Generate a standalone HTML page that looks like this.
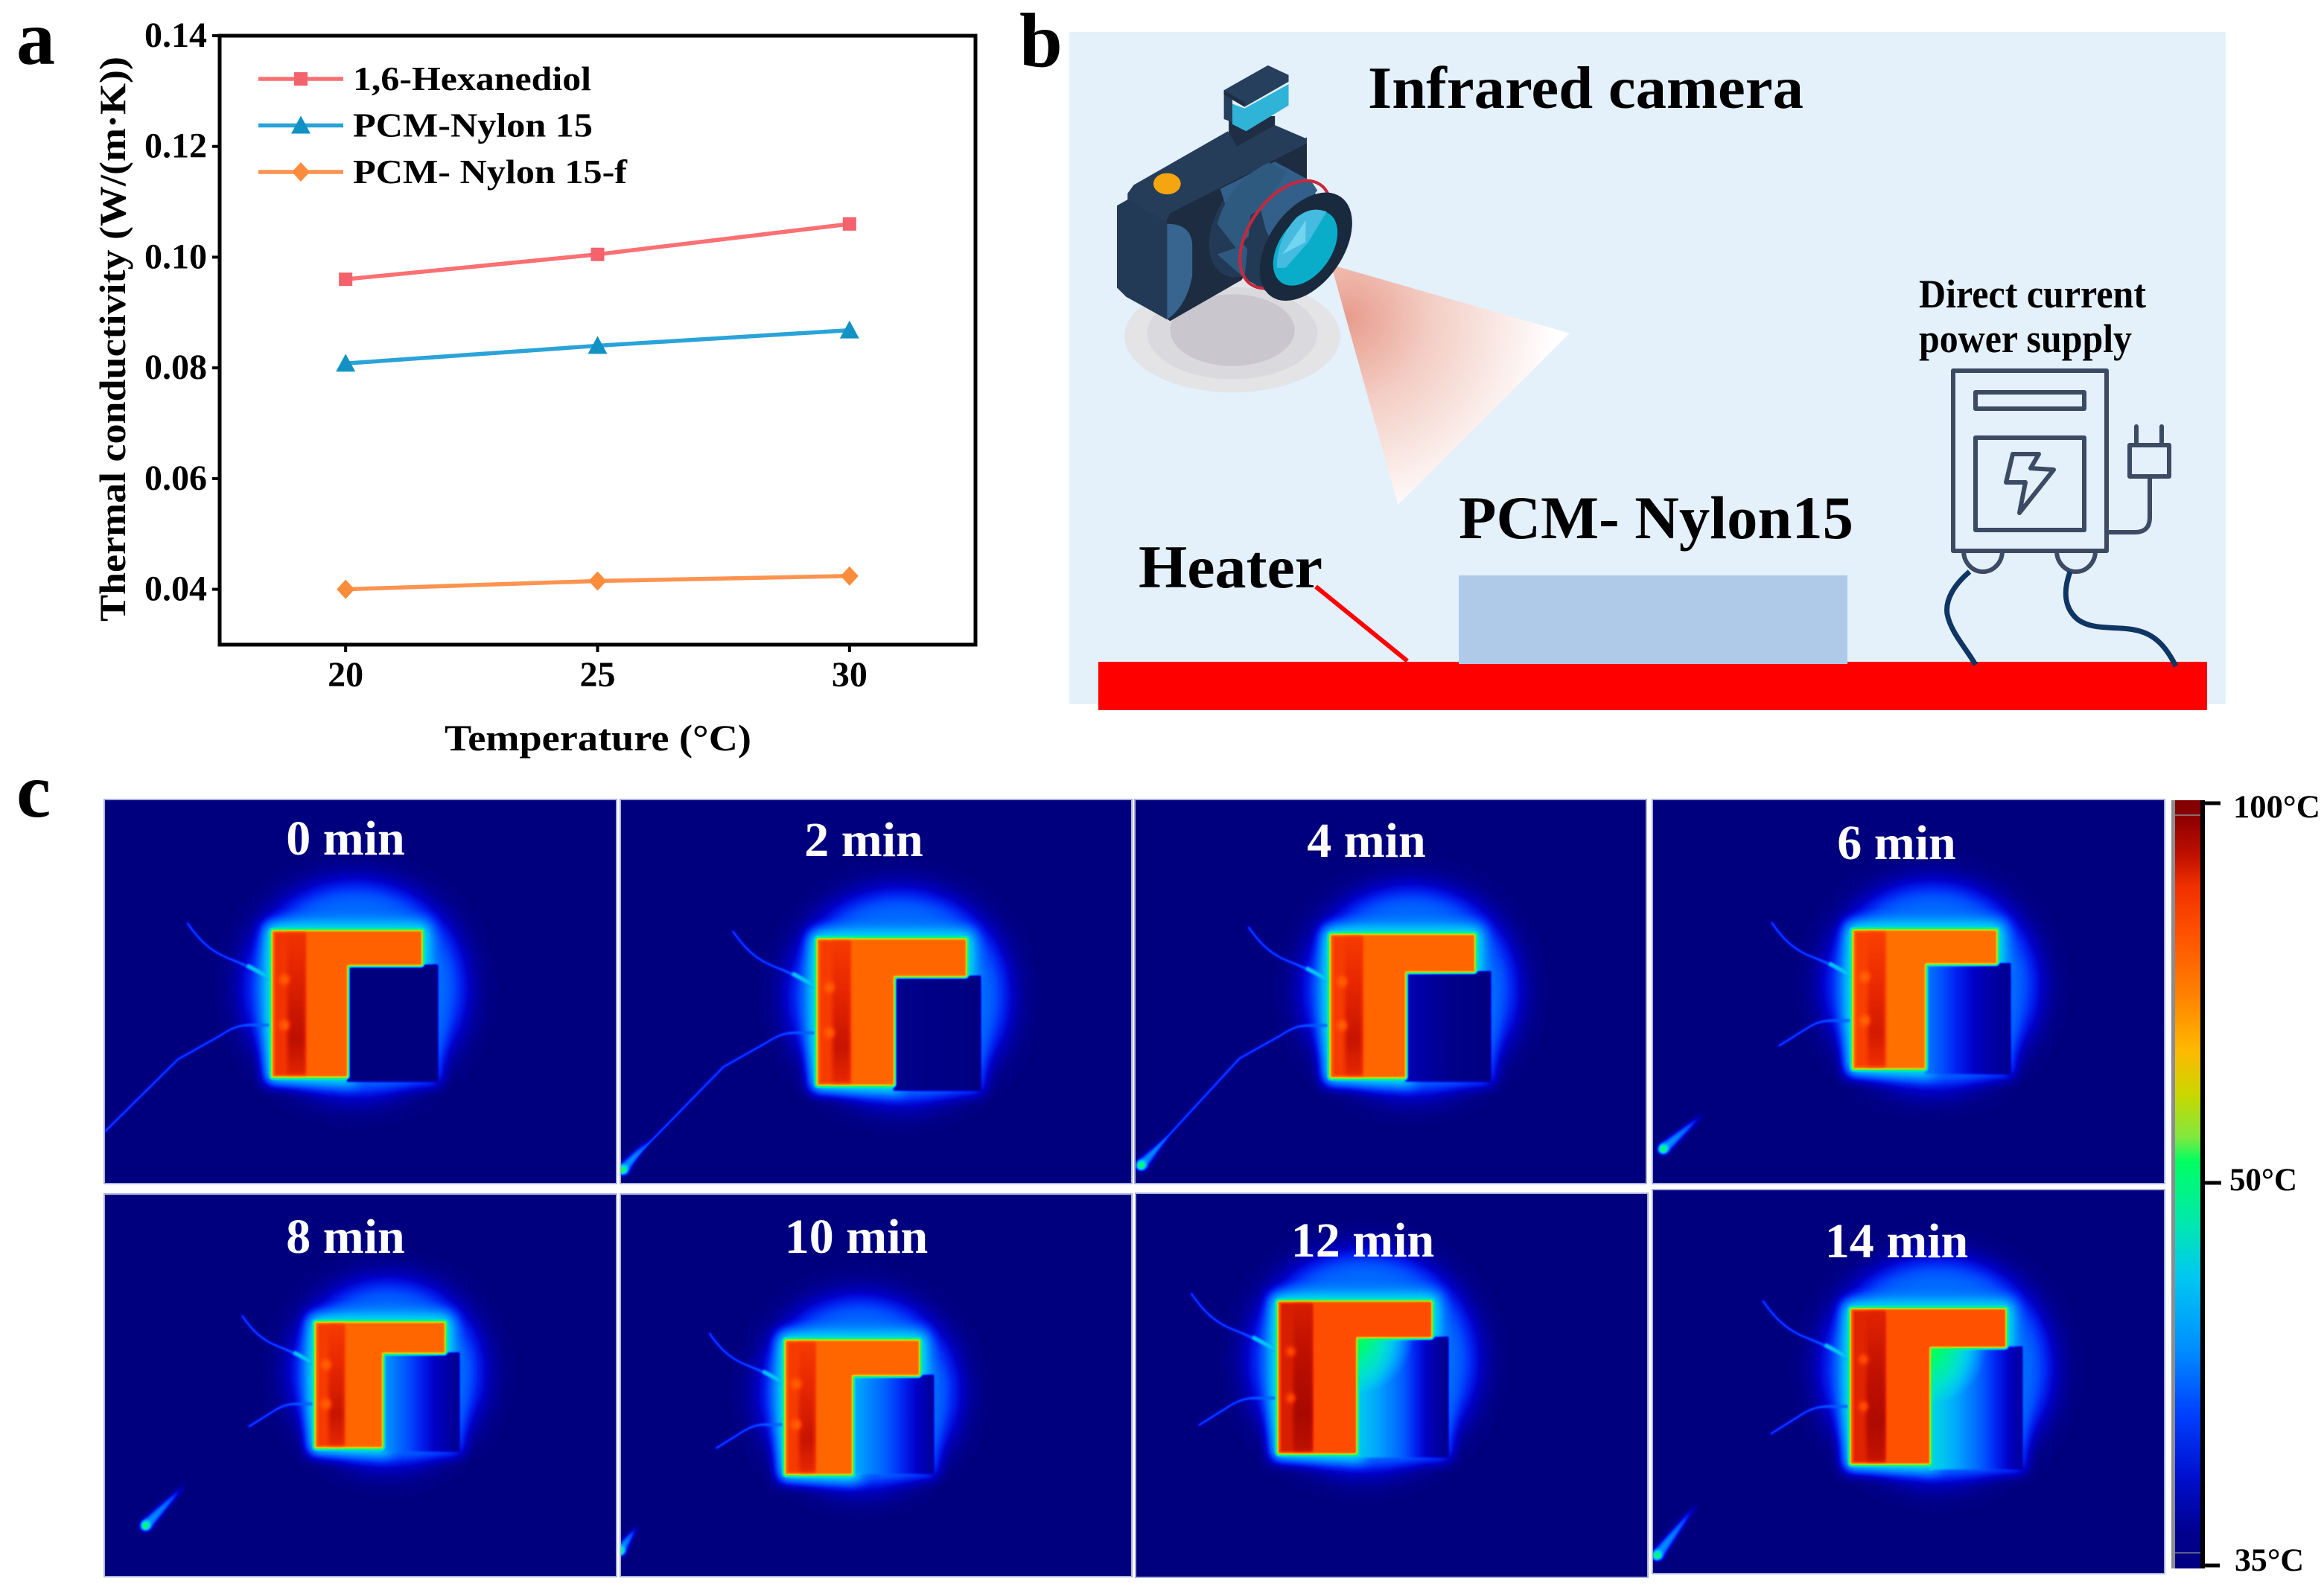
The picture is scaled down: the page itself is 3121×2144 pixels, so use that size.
<!DOCTYPE html>
<html lang="en">
<head>
<meta charset="utf-8">
<title>Thermal conductivity and infrared thermography figure</title>
<style>
html,body{margin:0;padding:0;background:#fff;}
body{width:3121px;height:2139px;overflow:hidden;}
svg text{font-family:"Liberation Serif",serif;font-weight:bold;}
</style>
</head>
<body>
<svg id="figure" xmlns="http://www.w3.org/2000/svg" width="3121" height="2139" viewBox="0 0 3121 2139">
<defs>
  <filter id="jet" x="0" y="0" width="100%" height="100%" color-interpolation-filters="sRGB">
    <feComponentTransfer>
      <feFuncR type="table" tableValues="0 0 0 0 0 0 0 0 0 0 0 .44 .78 1 1 1 1 .91 .75 .63 .5"/>
      <feFuncG type="table" tableValues="0 0 0 .125 .31 .47 .63 .78 .88 .94 1 .94 .88 .69 .53 .376 .28 .157 .063 .03 0"/>
      <feFuncB type="table" tableValues=".5 .63 .78 .94 1 1 1 .94 .82 .63 .376 .25 0 0 0 0 0 0 0 0 0"/>
    </feComponentTransfer>
  </filter>
  <filter id="blur1" x="-100%" y="-100%" width="300%" height="300%" color-interpolation-filters="sRGB"><feGaussianBlur stdDeviation="1.4"/></filter>
  <filter id="blur2" x="-100%" y="-100%" width="300%" height="300%" color-interpolation-filters="sRGB"><feGaussianBlur stdDeviation="3"/></filter>
  <filter id="blur3" x="-100%" y="-100%" width="300%" height="300%" color-interpolation-filters="sRGB"><feGaussianBlur stdDeviation="9"/></filter>
  <filter id="blur4" x="-100%" y="-100%" width="300%" height="300%" color-interpolation-filters="sRGB"><feGaussianBlur stdDeviation="20"/></filter>
  <radialGradient id="cone-fill" gradientUnits="userSpaceOnUse" cx="760" cy="900" r="680">
    <stop offset="0" stop-color="#e89c8c"/>
    <stop offset=".4" stop-color="#f3cdc4"/>
    <stop offset="1" stop-color="#ffffff"/>
  </radialGradient>
  <linearGradient id="colorbar-fill" x1="0" y1="0" x2="0" y2="1">
    <stop offset="0" stop-color="#800000"/><stop offset=".025" stop-color="#900000"/>
    <stop offset=".072" stop-color="#c01000"/><stop offset=".112" stop-color="#f03000"/>
    <stop offset=".172" stop-color="#ff5000"/><stop offset=".252" stop-color="#ff8000"/>
    <stop offset=".325" stop-color="#ffb800"/><stop offset=".385" stop-color="#c8d800"/>
    <stop offset=".439" stop-color="#80e840"/><stop offset=".47" stop-color="#00ff60"/>
    <stop offset=".552" stop-color="#00e8b0"/><stop offset=".619" stop-color="#00c8f0"/>
    <stop offset=".712" stop-color="#0090ff"/><stop offset=".799" stop-color="#0040ff"/>
    <stop offset=".879" stop-color="#0010d0"/><stop offset=".952" stop-color="#000090"/>
    <stop offset="1" stop-color="#000080"/>
  </linearGradient>
</defs>

<rect x="0" y="0" width="3121" height="2139" fill="#fff"/>

<text x="22" y="86" font-size="104" fill="#000">a</text>
<text x="1369" y="89" font-size="104" fill="#000">b</text>
<text x="22" y="1097" font-size="104" fill="#000">c</text>

<g id="chart-a"></g>

<g>
  <rect x="1436" y="43" width="1553" height="903" fill="#e4f0fa"/>
  <rect x="1475" y="889" width="1489" height="65" fill="#ff0000"/>
  <rect x="1959" y="773" width="522" height="119" fill="#afc9e8"/>
  <line x1="1767" y1="788" x2="1890" y2="888" stroke="#ff0000" stroke-width="6"/>
  <text x="1837" y="145" font-size="80" textLength="585" lengthAdjust="spacingAndGlyphs">Infrared camera</text>
  <text x="1959" y="723" font-size="82" textLength="530" lengthAdjust="spacingAndGlyphs">PCM- Nylon15</text>
  <text x="1529" y="789" font-size="82" textLength="247" lengthAdjust="spacingAndGlyphs">Heater</text>
  <text x="2577" y="413" font-size="54" textLength="305" lengthAdjust="spacingAndGlyphs">Direct current</text>
  <text x="2577" y="473" font-size="54" textLength="286" lengthAdjust="spacingAndGlyphs">power supply</text>

  <g transform="translate(1500,60) scale(.408)">
    <ellipse cx="380" cy="960" rx="355" ry="185" fill="#e4e4e7"/>
    <ellipse cx="380" cy="950" rx="280" ry="152" fill="#dad9dd"/>
    <ellipse cx="380" cy="940" rx="205" ry="118" fill="#c9c7cd"/>
    <polygon points="705,725 1490,950 925,1515" fill="url(#cone-fill)"/>
    <polygon points="368,240 520,235 520,285 395,340 368,320" fill="#1e2f45"/>
    <polygon points="160,585 175,545 625,305 625,440 410,775 175,910 160,900" fill="#1d2c40"/>
    <polygon points="35,490 55,462 365,285 395,335 520,265 625,310 625,325 175,555 160,585 35,515" fill="#253d59"/>
    <polygon points="0,530 35,510 165,585 165,905 30,830 0,800" fill="#233a57"/>
    <path d="M165,590 Q245,590 248,660 L248,760 Q230,860 165,905 Z" fill="#38658f"/>
    <ellipse cx="455" cy="580" rx="125" ry="205" transform="rotate(32 455 580)" fill="#233a57"/>
    <polygon points="340,475 520,385 640,450 620,500 470,600 400,660" fill="#33608a"/>
    <path d="M330,590 Q370,450 500,388 L560,420 L440,590 L400,680 Z" fill="#2f5a80"/>
    <polygon points="410,760 330,690 420,660 500,780" fill="#2f5a80"/>
    <polygon points="440,560 640,450 700,640 540,840 420,770" fill="#233a57"/>
    <polygon points="470,530 640,450 660,480 510,650 490,610" fill="#33608a"/>
    <ellipse cx="555" cy="625" rx="118" ry="200" transform="rotate(35 555 625)" fill="none" stroke="#c8283c" stroke-width="10" />
    <ellipse cx="622" cy="665" rx="122" ry="200" transform="rotate(35 622 665)" fill="#1a2a3e"/>
    <ellipse cx="620" cy="670" rx="86" ry="138" transform="rotate(35 620 670)" fill="#0aadc9"/>
    <path d="M526,735 Q526,640 590,570 Q640,530 690,550 L630,650 L555,735 Z" fill="#45bbe0"/>
    <polygon points="545,690 622,578 620,650" fill="#72d5f0"/>
    <ellipse cx="165" cy="458" rx="45" ry="35" fill="#f5a50f"/>
    <polygon points="352,150 497,68 565,100 565,122 420,205 352,165" fill="#263f5c"/>
    <polygon points="352,150 420,190 420,205 352,165" fill="#1d2f45"/>
    <polygon points="352,165 380,180 380,255 352,245" fill="#263f5c"/>
    <polygon points="380,195 420,210 565,130 565,200 425,285 380,262" fill="#2fb4d8"/>
  </g>

  <g fill="none" stroke="#3c4a63" stroke-width="6" stroke-linejoin="round" stroke-linecap="round">
    <rect x="2623" y="498" width="206" height="242"/>
    <rect x="2653" y="527" width="146" height="22"/>
    <rect x="2653" y="588" width="146" height="124"/>
    <polygon points="2703,610 2738,610 2727,629 2758,631 2712,689 2720,648 2694,648"/>
    <rect x="2860" y="598" width="53" height="42"/>
    <path d="M2869,573 V598 M2903,573 V598"/>
    <path d="M2887,640 V695 Q2887,715 2867,715 H2829"/>
    <path d="M2637,740 A26,28 0 0 0 2689,740"/>
    <path d="M2762,740 A26,28 0 0 0 2814,740"/>
  </g>
  <path d="M2645,768 C2625,785 2612,805 2615,825 C2620,850 2640,870 2653,893" fill="none" stroke="#0f3563" stroke-width="7"/>
  <path d="M2780,768 C2772,790 2770,815 2790,832 C2815,850 2850,838 2880,850 C2900,858 2912,875 2922,895" fill="none" stroke="#0f3563" stroke-width="7"/>
</g>

<g id="thermal-panels"></g>

<g>
  <rect x="2916" y="1075" width="6" height="1032" fill="#8c8c90"/>
  <rect x="2921" y="1075" width="34" height="1032" fill="url(#colorbar-fill)"/>
  <line x1="2921" y1="1095" x2="2955" y2="1095" stroke="#8a6a6a" stroke-width="2"/>
  <line x1="2921" y1="2086" x2="2955" y2="2086" stroke="#5a5a8a" stroke-width="2"/>
  <rect x="2955" y="1075" width="6" height="1032" fill="#000"/>
  <line x1="2958" y1="1079" x2="2982" y2="1079" stroke="#000" stroke-width="5"/>
  <line x1="2958" y1="1589" x2="2983" y2="1589" stroke="#000" stroke-width="5"/>
  <line x1="2958" y1="2103" x2="2981" y2="2103" stroke="#000" stroke-width="5"/>
  <text x="2999" y="1098" font-size="43" textLength="117" lengthAdjust="spacingAndGlyphs">100°C</text>
  <text x="2994" y="1599" font-size="43" textLength="91" lengthAdjust="spacingAndGlyphs">50°C</text>
  <text x="3001" y="2110" font-size="43" textLength="93" lengthAdjust="spacingAndGlyphs">35°C</text>
</g>
</svg>

<script>
// ---- Panel a data ----
const temperatures = [20, 25, 30];
const hexanediolValues = [0.096, 0.1005, 0.106];
const nylonValues = [0.0808, 0.084, 0.0868];
const nylonFiberValues = [0.04, 0.0415, 0.0424];
const xTickValues = [20, 25, 30];
const xTickLabels = ['20', '25', '30'];
const yTickValues = [0.04, 0.06, 0.08, 0.1, 0.12, 0.14];
const yTickLabels = ['0.04', '0.06', '0.08', '0.10', '0.12', '0.14'];
const seriesNames = ['1,6-Hexanediol', 'PCM-Nylon 15', 'PCM- Nylon 15-f'];

const SVGNS = 'http://www.w3.org/2000/svg';
function make(tag, attrs, parent) {
  const el = document.createElementNS(SVGNS, tag);
  for (const k in attrs) el.setAttribute(k, attrs[k]);
  if (parent) parent.appendChild(el);
  return el;
}
const plot = { left: 295, right: 1310, top: 48, bottom: 866, xMin: 17.5, xMax: 32.5, yMin: 0.03, yMax: 0.14 };
function xScale(v) { return plot.left + (v - plot.xMin) / (plot.xMax - plot.xMin) * (plot.right - plot.left); }
function yScale(v) { return plot.bottom - (v - plot.yMin) / (plot.yMax - plot.yMin) * (plot.bottom - plot.top); }

function drawMarker(kind, x, y, color, parent) {
  if (kind === 'square') return make('rect', { x: x - 9, y: y - 9, width: 18, height: 18, fill: color }, parent);
  if (kind === 'triangle') return make('polygon', { points: (x - 13) + ',' + (y + 11) + ' ' + (x + 13) + ',' + (y + 11) + ' ' + x + ',' + (y - 13), fill: color }, parent);
  return make('polygon', { points: (x - 12) + ',' + y + ' ' + x + ',' + (y - 13) + ' ' + (x + 12) + ',' + y + ' ' + x + ',' + (y + 13), fill: color }, parent);
}

(function drawChart() {
  const root = document.getElementById('chart-a');
  const frame = make('rect', { x: plot.left, y: plot.top, width: plot.right - plot.left, height: plot.bottom - plot.top, fill: 'none', stroke: '#000', 'stroke-width': 5 }, root);
  
  

  xTickValues.forEach(function (v, i) {
    const tick = make('line', { x1: xScale(v), x2: xScale(v), y1: plot.bottom, y2: plot.bottom + 10, stroke: '#000', 'stroke-width': 4 }, root);
    
    
    const label = make('text', { x: xScale(v), y: 922, 'font-size': 48, 'text-anchor': 'middle' }, root);
    label.textContent = xTickLabels[i];
    
    
  });
  yTickValues.forEach(function (v, i) {
    const tick = make('line', { x1: plot.left - 10, x2: plot.left, y1: yScale(v), y2: yScale(v), stroke: '#000', 'stroke-width': 4 }, root);
    
    
    const label = make('text', { x: 278, y: yScale(v) + 15, 'font-size': 48, 'text-anchor': 'end' }, root);
    label.textContent = yTickLabels[i];
    
    
  });

  const yTitle = make('text', { transform: 'translate(168,835) rotate(-90)', x: 0, y: 0, 'font-size': 50, textLength: 759, lengthAdjust: 'spacingAndGlyphs' }, root);
  yTitle.textContent = 'Thermal conductivity (W/(m\u00B7K))';
  
  
  const xTitle = make('text', { x: 597, y: 1008, 'font-size': 50, textLength: 412, lengthAdjust: 'spacingAndGlyphs' }, root);
  xTitle.textContent = 'Temperature (\u00B0C)';
  
  

  const seriesValues = [hexanediolValues, nylonValues, nylonFiberValues];
  const lineColors = ['#fb7073', '#2aa4d8', '#fd9350'];
  const markColors = ['#f4626c', '#1292c4', '#fb8c3c'];
  const markKinds = ['square', 'triangle', 'diamond'];
  const seriesKeys = ['hexanediol', 'pcm-nylon', 'pcm-nylon-f'];
  const legendWidths = [320, 322, 368];
  seriesValues.forEach(function (vals, s) {
    const pts = vals.map(function (v, i) { return xScale(temperatures[i]) + ',' + yScale(v); }).join(' ');
    const line = make('polyline', { points: pts, fill: 'none', stroke: lineColors[s], 'stroke-width': 5.5 }, root);
    
    
    vals.forEach(function (v, i) {
      const m = drawMarker(markKinds[s], xScale(temperatures[i]), yScale(v), markColors[s], root);
      
      
    });
    const ly = 106 + s * 62.5;
    const swatch = make('line', { x1: 347, x2: 461, y1: ly, y2: ly, stroke: lineColors[s], 'stroke-width': 5.5 }, root);
    
    
    const lm = drawMarker(markKinds[s], 404, ly, markColors[s], root);
    
    
    const lt = make('text', { x: 474, y: ly + 15, 'font-size': 46, textLength: legendWidths[s], lengthAdjust: 'spacingAndGlyphs' }, root);
    lt.textContent = seriesNames[s];
    
    
  });
})();

// ---- Panel c: thermal photographs, built as a grey field mapped through a jet filter ----
function grey(v) { const g = Math.round(v * 255); return 'rgb(' + g + ',' + g + ',' + g + ')'; }
let panelCount = 0;
function thermalPanel(p) {
  const root = document.getElementById('thermal-panels');
  panelCount++;
  const id = 'sample-grad-' + panelCount;
  const defs = document.querySelector('defs');
  const lg = make('linearGradient', { id: id, gradientUnits: 'userSpaceOnUse', x1: p.ix, y1: 0, x2: p.sR, y2: 0 }, defs);
  p.stops.forEach(function (s, i) {
    make('stop', { offset: i / (p.stops.length - 1), 'stop-color': grey(s) }, lg);
  });
  const cornerId = 'corner-grad-' + panelCount;
  if (p.corner) {
    const rg = make('radialGradient', { id: cornerId, gradientUnits: 'userSpaceOnUse', cx: p.ix, cy: p.iy, r: (p.sR - p.ix) * 0.62 }, defs);
    make('stop', { offset: 0, 'stop-color': grey(p.corner), 'stop-opacity': 1 }, rg);
    make('stop', { offset: 1, 'stop-color': grey(p.corner), 'stop-opacity': 0 }, rg);
  }
  const stripId = 'strip-grad-' + panelCount;
  const sg = make('linearGradient', { id: stripId, x1: 0, y1: 0, x2: 0, y2: 1 }, defs);
  make('stop', { offset: 0, 'stop-color': grey(p.hot + 0.08) }, sg);
  make('stop', { offset: 0.75, 'stop-color': grey(p.hot + 0.15) }, sg);
  make('stop', { offset: 1, 'stop-color': grey(p.hot + 0.11) }, sg);

  const wrap = make('g', {}, root);
  
  
  const frame = make('svg', { x: p.x, y: p.y, width: p.w, height: p.h, viewBox: p.x + ' ' + p.y + ' ' + p.w + ' ' + p.h }, wrap);
  const g = make('g', { filter: 'url(#jet)' }, frame);
  make('rect', { x: p.x, y: p.y, width: p.w, height: p.h, fill: grey(0) }, g);

  const L = p.L, T = p.T, R = p.R, B = p.B, s = (R - L) / 200;
  const lPath = 'M' + L + ',' + T + ' H' + R + ' V' + p.iy + ' H' + p.ix + ' V' + B + ' H' + L + ' Z';
  const tx = function (dx, dy) { return (L + dx * s) + ',' + (T + dy * s); };

  make('ellipse', { cx: (L + p.sR) / 2, cy: T + 77 * s, rx: 150 * s, ry: 146 * s, fill: grey(0.24), filter: 'url(#blur4)' }, g);
  make('rect', { x: p.ix, y: p.iy, width: p.sR - p.ix, height: p.sB - p.iy, fill: grey(0.24), stroke: grey(0.24), 'stroke-width': 8, filter: 'url(#blur3)' }, g);
  make('path', { d: lPath, fill: grey(0.42), stroke: grey(0.42), 'stroke-width': 20, filter: 'url(#blur3)' }, g);

  // wires
  const wire1 = 'M' + tx(-3, 64) + ' C' + tx(-25, 50) + ' ' + tx(-45, 42) + ' ' + tx(-60, 36) + ' C' + tx(-85, 26) + ' ' + tx(-100, 10) + ' ' + tx(-115, -12);
  make('path', { d: wire1, fill: 'none', stroke: grey(0.22), 'stroke-width': 3.5, filter: 'url(#blur1)' }, g);
  let wire2 = 'M' + tx(-3, 126) + ' L' + tx(-30, 126) + ' C' + tx(-45, 126) + ' ' + tx(-55, 130) + ' ' + tx(-70, 140);
  if (p.wireEnd) {
    wire2 += ' L' + tx(-127, 172) + ' L' + p.wireEnd[0] + ',' + p.wireEnd[1];
  } else {
    wire2 += ' L' + tx(-105, 162);
  }
  make('path', { d: wire2, fill: 'none', stroke: grey(0.22), 'stroke-width': 3.5, filter: 'url(#blur1)' }, g);
  make('path', { d: 'M' + tx(-2, 64) + ' C' + tx(-14, 57) + ' ' + tx(-24, 51) + ' ' + tx(-34, 46), fill: 'none', stroke: grey(0.36), 'stroke-width': 5, filter: 'url(#blur1)' }, g);
  make('path', { d: 'M' + tx(-2, 126) + ' L' + tx(-30, 126), fill: 'none', stroke: grey(0.36), 'stroke-width': 5, filter: 'url(#blur1)' }, g);

  // tapered hot spot where the lead touches the corner of the frame
  if (p.spot) {
    const dx = p.spot[2] - p.spot[0], dy = p.spot[3] - p.spot[1], len = Math.hypot(dx, dy);
    const nx = -dy / len * 8, ny = dx / len * 8;
    const pts = (p.spot[0] + nx) + ',' + (p.spot[1] + ny) + ' ' + (p.spot[0] - nx) + ',' + (p.spot[1] - ny) + ' ' + p.spot[2] + ',' + p.spot[3];
    make('polygon', { points: pts, fill: grey(0.28), filter: 'url(#blur2)' }, g);
    make('circle', { cx: p.spot[0], cy: p.spot[1], r: 6, fill: grey(0.55), filter: 'url(#blur2)' }, g);
  }

  // PCM sample block
  make('rect', { x: p.ix, y: p.iy, width: p.sR - p.ix, height: p.sB - p.iy, fill: 'url(#' + id + ')', filter: 'url(#blur1)' }, g);
  if (p.corner) {
    make('rect', { x: p.ix, y: p.iy, width: p.sR - p.ix, height: p.sB - p.iy, fill: 'url(#' + cornerId + ')' }, g);
  }

  // L-shaped heater
  make('path', { d: lPath, fill: grey(0.52), stroke: grey(0.52), 'stroke-width': 7, 'stroke-linejoin': 'round', filter: 'url(#blur1)' }, g);
  make('path', { d: lPath, fill: grey(p.hot), stroke: grey(p.hot), 'stroke-width': 1, 'stroke-linejoin': 'round', filter: 'url(#blur1)' }, g);
  make('rect', { x: L + 3, y: T + 2, width: 42 * s, height: B - T - 4, fill: grey(p.hot + 0.08), filter: 'url(#blur1)' }, g);
  make('rect', { x: L + 20 * s, y: T + 3, width: 24 * s, height: B - T - 6, fill: 'url(#' + stripId + ')', filter: 'url(#blur2)' }, g);
  make('circle', { cx: L + 16 * s, cy: T + 65 * s, r: 6, fill: grey(p.hot), filter: 'url(#blur2)' }, g);
  make('circle', { cx: L + 16 * s, cy: T + 126 * s, r: 6, fill: grey(p.hot), filter: 'url(#blur2)' }, g);

  const border = make('rect', { x: p.x, y: p.y, width: p.w, height: p.h, fill: 'none', stroke: '#a8b0d8', 'stroke-width': 2 }, wrap);
  
  

  const t = make('text', { x: p.tx, y: p.ty, 'font-size': 66, 'text-anchor': 'middle', fill: '#fff' }, wrap);
  t.textContent = p.label;
  
  
}

thermalPanel({ label: '0 min', x: 140, y: 1074, w: 688, h: 516, tx: 464, ty: 1148, L: 366, T: 1251, R: 566, B: 1446, ix: 466, iy: 1296, sR: 588, sB: 1453, hot: 0.75, stops: [0, 0], wireEnd: [140, 1521] });
thermalPanel({ label: '2 min', x: 833, y: 1074, w: 687, h: 516, tx: 1160, ty: 1150, L: 1098, T: 1262, R: 1297, B: 1457, ix: 1200, iy: 1311, sR: 1317, sB: 1465, hot: 0.74, stops: [0.02, 0], wireEnd: [836, 1572], spot: [836, 1572, 872, 1530] });
thermalPanel({ label: '4 min', x: 1524, y: 1074, w: 687, h: 516, tx: 1835, ty: 1151, L: 1787, T: 1256, R: 1980, B: 1447, ix: 1887, iy: 1305, sR: 2002, sB: 1453, hot: 0.74, stops: [0.08, 0.02, 0], wireEnd: [1532, 1566], spot: [1532, 1566, 1570, 1525] });
thermalPanel({ label: '6 min', x: 2219, y: 1074, w: 688, h: 516, tx: 2547, ty: 1154, L: 2489, T: 1250, R: 2681, B: 1435, ix: 2585, iy: 1294, sR: 2700, sB: 1443, hot: 0.73, stops: [0.26, 0.16, 0.08, 0.02], spot: [2233, 1544, 2288, 1496] });
thermalPanel({ label: '8 min', x: 140, y: 1604, w: 688, h: 514, tx: 464, ty: 1683, L: 424, T: 1777, R: 597, B: 1944, ix: 513, iy: 1817, sR: 617, sB: 1950, hot: 0.74, stops: [0.3, 0.2, 0.1, 0.02], spot: [195, 2050, 249, 1994] });
thermalPanel({ label: '10 min', x: 833, y: 1604, w: 687, h: 514, tx: 1150, ty: 1683, L: 1055, T: 1801, R: 1234, B: 1980, ix: 1144, iy: 1847, sR: 1254, sB: 1980, hot: 0.74, stops: [0.32, 0.24, 0.14, 0.03], spot: [832, 2084, 856, 2050] });
thermalPanel({ label: '12 min', x: 1525, y: 1603, w: 688, h: 516, tx: 1830, ty: 1688, L: 1717, T: 1749, R: 1922, B: 1952, ix: 1821, iy: 1796, sR: 1945, sB: 1958, hot: 0.79, corner: 0.52, stops: [0.36, 0.3, 0.22, 0.1, 0.01] });
thermalPanel({ label: '14 min', x: 2219, y: 1598, w: 688, h: 516, tx: 2547, ty: 1689, L: 2486, T: 1759, R: 2693, B: 1966, ix: 2591, iy: 1809, sR: 2716, sB: 1974, hot: 0.78, corner: 0.52, stops: [0.38, 0.32, 0.24, 0.14, 0.04], spot: [2225, 2090, 2279, 2020] });
</script>
</body>
</html>
